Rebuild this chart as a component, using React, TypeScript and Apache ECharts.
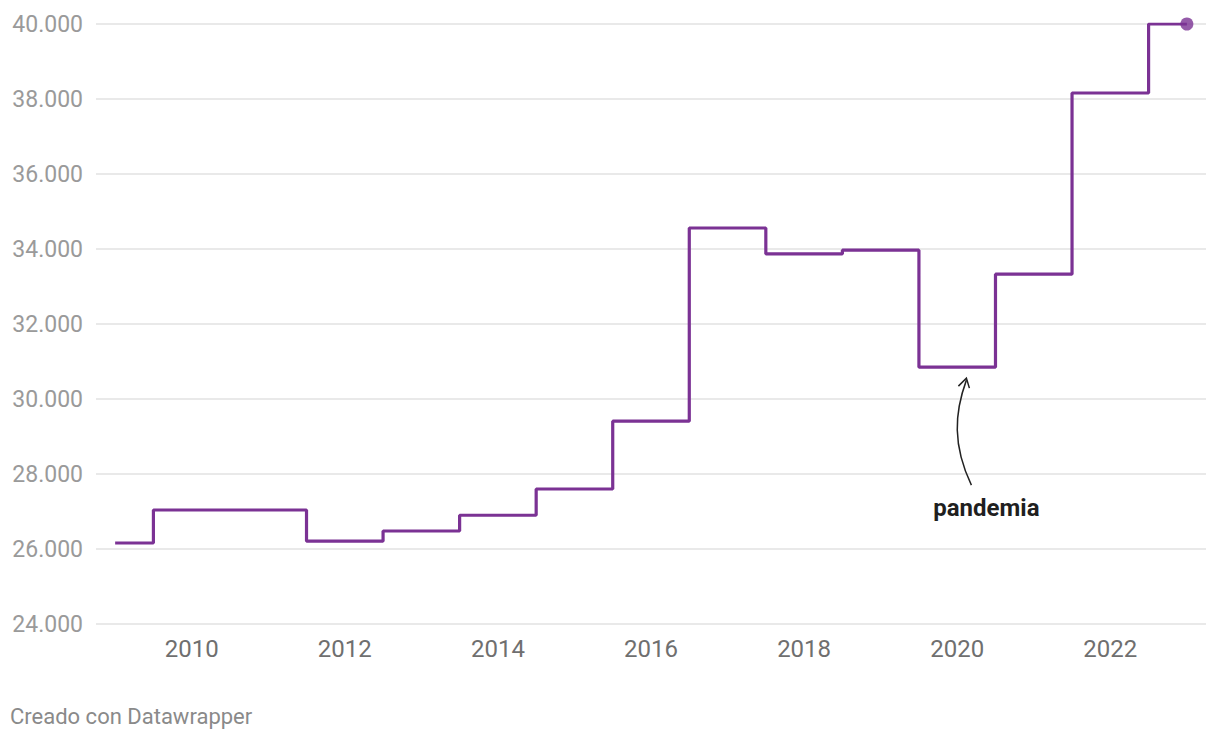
import React, { useEffect, useRef } from "react";
import * as echarts from "echarts";

const years = [2009, 2010, 2011, 2012, 2013, 2014, 2015, 2016, 2017, 2018, 2019, 2020, 2021, 2022, 2023];
const values = [26160, 27040, 27040, 26210, 26480, 26900, 27600, 29410, 34560, 33870, 33970, 30850, 33330, 38160, 40000];
const xTickLabels = [2010, 2012, 2014, 2016, 2018, 2020, 2022];
const annotationText = "pandemia";
const annotationYear = 2020;
const footerText = "Creado con Datawrapper";

const PURPLE = "#7b3294";
const FONT = "Roboto, 'Noto Sans', sans-serif";

export default function App() {
  const ref = useRef<HTMLDivElement>(null);
  useEffect(() => {
    document.body.style.margin = "0";
    const chart = echarts.init(ref.current!, null, { renderer: "svg" });
    const data = years.map((y, i) => [y, values[i]]);
    chart.setOption({
      animation: false,
      textStyle: { fontFamily: FONT },
      grid: { left: 96, right: 14, top: 24, bottom: 116, containLabel: false },
      xAxis: {
        type: "value",
        min: 2008.75,
        max: 2023.25,
        splitLine: { show: false },
        axisLine: { show: false },
        axisTick: { show: false },
        axisLabel: {
          customValues: xTickLabels,
          formatter: (v: number) => String(v),
          color: "#6f6f6f",
          fontSize: 24,
          margin: 13,
          fontFamily: FONT,
        },
      },
      yAxis: {
        type: "value",
        min: 24000,
        max: 40000,
        interval: 2000,
        axisLine: { show: false },
        axisTick: { show: false },
        splitLine: { lineStyle: { color: "#e2e2e2", width: 1.5 } },
        axisLabel: {
          color: "#9a9a9a",
          fontSize: 23,
          margin: 13,
          fontFamily: FONT,
          formatter: (v: number) => v.toLocaleString("de-DE"),
        },
      },
      series: [
        {
          type: "line",
          step: "middle",
          data,
          showSymbol: false,
          symbol: "none",
          lineStyle: { color: PURPLE, width: 3.2 },
        },
        {
          type: "scatter",
          data: [data[data.length - 1]],
          symbol: "circle",
          symbolSize: 13,
          itemStyle: { color: PURPLE },
        },
      ],
    });

    const idx = years.indexOf(annotationYear);
    const p = chart.convertToPixel({ gridIndex: 0 }, [annotationYear + 0.12, values[idx]]) as number[];
    const tipX = p[0];
    const tipY = p[1] + 11;
    const baseY = tipY + 107;
    chart.setOption({
      graphic: [
        {
          type: "bezierCurve",
          shape: {
            x1: tipX + 5, y1: baseY,
            x2: tipX, y2: tipY + 2,
            cpx1: tipX - 14, cpy1: baseY - 40,
            cpx2: tipX - 12, cpy2: tipY + 35,
          },
          style: { stroke: "#222", lineWidth: 1.5, fill: null },
        },
        {
          type: "polyline",
          shape: { points: [[tipX - 8, tipY + 8], [tipX, tipY], [tipX + 3, tipY + 10]] },
          style: { stroke: "#222", lineWidth: 1.5, fill: null },
        },
        {
          type: "text",
          x: tipX + 20,
          y: baseY + 23,
          style: {
            text: annotationText,
            fill: "#1f1f1f",
            font: `bold 24px ${FONT}`,
            textAlign: "center",
            textVerticalAlign: "middle",
          },
        },
        {
          type: "text",
          x: 10,
          y: 716,
          style: {
            text: footerText,
            fill: "#8a8a8a",
            font: `22px ${FONT}`,
            textAlign: "left",
            textVerticalAlign: "middle",
          },
        },
      ],
    });
    return () => chart.dispose();
  }, []);
  return <div ref={ref} style={{ width: 1220, height: 740 }} />;
}
